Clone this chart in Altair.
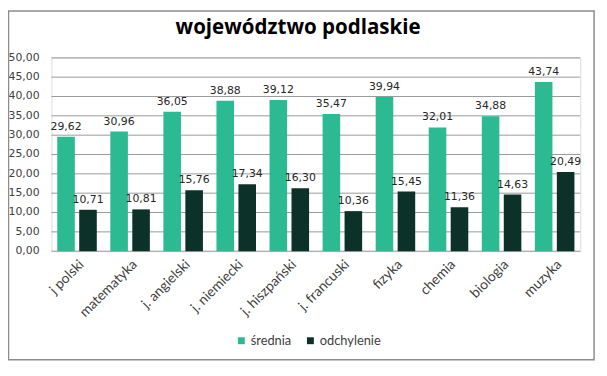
import altair as alt
import pandas as pd

categories = ["j polski", "matematyka", "j. angielski", "j. niemiecki", "j. hiszpański",
              "j. francuski", "fizyka", "chemia", "biologia", "muzyka"]
srednia = [29.62, 30.96, 36.05, 38.88, 39.12, 35.47, 39.94, 32.01, 34.88, 43.74]
odchylenie = [10.71, 10.81, 15.76, 17.34, 16.30, 10.36, 15.45, 11.36, 14.63, 20.49]
series = ["średnia", "odchylenie"]
colors = ["#2BBA92", "#0B3128"]
y_ticks = [0, 5, 10, 15, 20, 25, 30, 35, 40, 45, 50]
title_text = "województwo podlaskie"


def pl(v):
    return f"{v:.2f}".replace(".", ",")


rows = []
for c, s, o in zip(categories, srednia, odchylenie):
    rows.append({"kat": c, "seria": series[0], "v": s, "lab": pl(s)})
    rows.append({"kat": c, "seria": series[1], "v": o, "lab": pl(o)})
df = pd.DataFrame(rows)
ticks_df = pd.DataFrame({"v": y_ticks, "lab": [pl(t) for t in y_ticks]})

LABEL_FONT = "DejaVu Sans"
TXT = "#404040"
GRID = "#999999"

yscale = alt.Scale(domain=[0, 50], nice=False, zero=True)

x_enc = alt.X("kat:N", sort=categories, title=None,
              scale=alt.Scale(paddingInner=0.255, paddingOuter=0.11),
              axis=alt.Axis(labelAngle=315, labelAlign="right", labelBaseline="top",
                            ticks=False, domain=False, grid=False, labelPadding=6,
                            labelFont="Lato", labelFontSize=14, labelColor=TXT))
xo_enc = alt.XOffset("seria:N", sort=series, scale=alt.Scale(paddingInner=0.2, paddingOuter=0))
y_enc = alt.Y("v:Q", title=None, scale=yscale, axis=None)

# gridlines and y labels drawn through the shared y scale
grid = alt.Chart(ticks_df).mark_rule(color=GRID, strokeWidth=1).encode(
    y=alt.Y("v:Q", scale=yscale, axis=None), x=alt.value(0), x2=alt.value(536))
ylabels = alt.Chart(ticks_df).mark_text(
    align="right", baseline="middle", font=LABEL_FONT, fontSize=11, color=TXT
).encode(y=alt.Y("v:Q", scale=yscale, axis=None), x=alt.value(-12), text="lab:N")

base = alt.Chart(df).encode(x=x_enc, xOffset=xo_enc, y=y_enc)

bars = base.mark_bar().encode(
    color=alt.Color("seria:N", sort=series,
                    scale=alt.Scale(domain=series, range=colors),
                    legend=alt.Legend(title=None, orient="none", legendX=186, legendY=280,
                                      direction="horizontal", symbolType="square",
                                      symbolSize=49, symbolStrokeWidth=0,
                                      labelFont="Lato", labelFontSize=13,
                                      labelColor=TXT, labelOffset=3, columnPadding=12)),
)

labels = base.mark_text(baseline="bottom", dy=-5, font=LABEL_FONT, fontSize=11, color="#262626").encode(
    text="lab:N",
)

frame = alt.Chart(pd.DataFrame({"t": [title_text]})).mark_rect(
    fill=None, stroke="#8C8C8C", strokeWidth=1.5
).encode(x=alt.value(-43.5), x2=alt.value(550), y=alt.value(-47.5), y2=alt.value(306))

title = alt.Chart(pd.DataFrame({"t": [title_text]})).mark_text(
    font="Open Sans", fontSize=20.8, fontWeight="bold", color="#000000",
    align="center", baseline="alphabetic"
).encode(x=alt.value(250), y=alt.value(-24), text="t:N")

chart = alt.layer(grid, ylabels, bars, labels, frame, title).properties(
    width=536, height=196,
    autosize=alt.AutoSizeParams(type="none"),
    padding={"left": 44, "top": 48, "right": 19, "bottom": 124},
).configure_view(stroke=None).configure(background="white")

chart.save("out.html", embed_options={"renderer": "svg", "actions": False})
